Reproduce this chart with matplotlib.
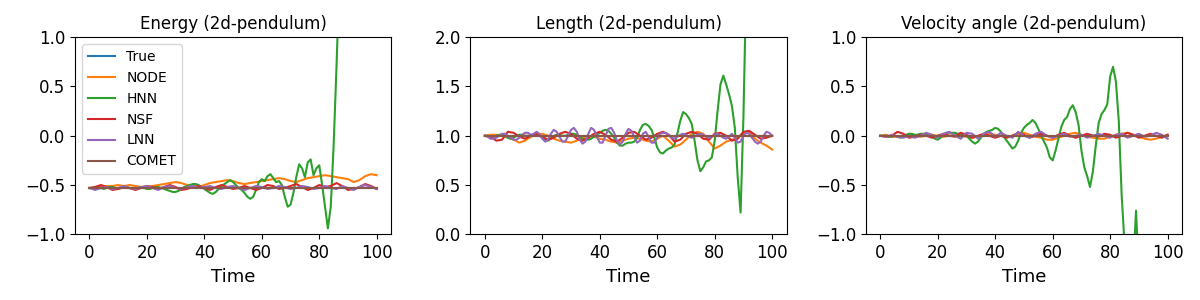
import numpy as np
import matplotlib
matplotlib.use("Agg")
import matplotlib.pyplot as plt

# time axes
t1 = np.arange(0, 101, 1)
t2 = np.arange(0, 101, 2)

labels = ["True", "NODE", "HNN", "NSF", "LNN", "COMET"]
titles = ["Energy (2d-pendulum)", "Length (2d-pendulum)", "Velocity angle (2d-pendulum)"]
ylims = [(-1.0, 1.0), (0.0, 2.0), (-1.0, 1.0)]
yticks = [[-1.0, -0.5, 0.0, 0.5, 1.0], [0.0, 0.5, 1.0, 1.5, 2.0], [-1.0, -0.5, 0.0, 0.5, 1.0]]

# ---------------- Energy ----------------
energy_true = -0.53
energy_comet = -0.53
energy_node = [-0.53, -0.53, -0.52, -0.51, -0.51, -0.50, -0.51, -0.50, -0.51, -0.52,
               -0.52, -0.51, -0.50, -0.49, -0.48, -0.47, -0.48, -0.50, -0.51, -0.52,
               -0.50, -0.48, -0.47, -0.46, -0.45, -0.46, -0.48, -0.49, -0.48, -0.47,
               -0.46, -0.45, -0.44, -0.43, -0.44, -0.46, -0.47, -0.45, -0.43, -0.42,
               -0.41, -0.40, -0.41, -0.42, -0.43, -0.44, -0.47, -0.45, -0.41, -0.39, -0.40]
energy_nsf = [-0.53, -0.52, -0.50, -0.52, -0.55, -0.54, -0.52, -0.53, -0.55, -0.53,
              -0.51, -0.52, -0.54, -0.52, -0.50, -0.52, -0.55, -0.54, -0.52, -0.51,
              -0.53, -0.55, -0.52, -0.50, -0.52, -0.54, -0.53, -0.51, -0.53, -0.55,
              -0.53, -0.50, -0.51, -0.54, -0.53, -0.51, -0.49, -0.52, -0.55, -0.53,
              -0.50, -0.52, -0.51, -0.48, -0.51, -0.55, -0.54, -0.52, -0.49, -0.51, -0.54]
energy_lnn = [-0.53, -0.55, -0.53, -0.52, -0.54, -0.53, -0.51, -0.53, -0.54, -0.52,
              -0.51, -0.53, -0.55, -0.52, -0.51, -0.53, -0.54, -0.52, -0.51, -0.53,
              -0.52, -0.51, -0.53, -0.54, -0.52, -0.51, -0.53, -0.55, -0.53, -0.51,
              -0.52, -0.54, -0.53, -0.51, -0.52, -0.54, -0.53, -0.51, -0.52, -0.54,
              -0.53, -0.51, -0.53, -0.54, -0.51, -0.53, -0.55, -0.52, -0.50, -0.52, -0.54]
energy_hnn = [-0.53, -0.53, -0.52, -0.52, -0.53, -0.54, -0.53, -0.52, -0.52, -0.53,
              -0.54, -0.53, -0.52, -0.52, -0.53, -0.54, -0.54, -0.53, -0.52, -0.53,
              -0.54, -0.54, -0.53, -0.52, -0.52, -0.53, -0.54, -0.55, -0.56, -0.57,
              -0.57, -0.56, -0.54, -0.52, -0.51, -0.50, -0.49, -0.49, -0.50, -0.52,
              -0.54, -0.56, -0.58, -0.59, -0.57, -0.54, -0.51, -0.49, -0.47, -0.45,
              -0.47, -0.50, -0.53, -0.55, -0.58, -0.62, -0.64, -0.62, -0.55, -0.47,
              -0.44, -0.46, -0.41, -0.39, -0.43, -0.47, -0.46, -0.50, -0.62, -0.72,
              -0.70, -0.58, -0.42, -0.29, -0.33, -0.42, -0.27, -0.24, -0.40, -0.33,
              -0.30, -0.50, -0.72, -0.94, -0.72, -0.10, 0.70, 1.60, 3.0, 5.0,
              7.0, 9.0, 11.0, 13.0, 15.0, 17.0, 19.0, 21.0, 23.0, 25.0, 27.0]

# ---------------- Length ----------------
length_true = 1.0
length_comet = 1.0
length_node = [1.00, 1.01, 1.01, 1.00, 0.98, 0.96, 0.93, 0.95, 0.99, 1.01,
               1.02, 1.00, 0.97, 0.95, 0.94, 0.93, 0.95, 0.98, 1.00, 0.99,
               0.97, 0.96, 0.94, 0.93, 0.95, 0.97, 0.98, 0.97, 0.95, 0.94,
               0.97, 1.00, 0.95, 0.89, 0.91, 0.96, 1.02, 1.04, 1.02, 0.94,
               0.87, 0.90, 0.94, 0.96, 0.98, 1.03, 1.04, 0.97, 0.93, 0.90, 0.86]
length_nsf = [1.00, 0.99, 0.95, 0.96, 1.04, 1.03, 0.99, 0.97, 1.00, 1.02,
              0.99, 0.96, 0.98, 1.02, 1.04, 1.02, 0.97, 0.95, 0.98, 1.02,
              1.04, 1.01, 0.96, 0.94, 0.98, 1.03, 1.04, 1.00, 0.96, 0.98,
              1.02, 1.04, 1.01, 0.94, 0.96, 1.02, 1.04, 1.02, 0.97, 0.96,
              1.02, 1.03, 1.00, 0.95, 0.97, 1.04, 1.05, 1.01, 0.97, 0.98, 1.00]
length_lnn = [1.00, 0.99, 0.97, 0.97, 0.98, 1.00, 1.02, 1.02, 1.00, 0.98,
              0.96, 0.96, 0.98, 1.01, 1.03, 1.03, 1.01, 1.02, 1.04, 1.02,
              0.97, 0.94, 0.96, 1.02, 1.06, 1.04, 0.99, 0.94, 0.94, 1.00,
              1.06, 1.08, 1.04, 0.96, 0.92, 0.94, 1.02, 1.08, 1.06, 0.99,
              0.93, 0.93, 1.00, 1.07, 1.08, 1.03, 0.95, 0.91, 0.94, 1.02,
              1.07, 1.05, 0.99, 0.93, 0.95, 1.02, 1.04, 0.99, 0.93, 0.93,
              0.98, 1.02, 1.03, 1.03, 1.01, 0.98, 0.97, 0.99, 1.01, 1.02,
              1.01, 0.99, 0.98, 0.99, 1.01, 1.02, 1.01, 0.99, 0.98, 0.99,
              1.01, 1.02, 1.00, 0.98, 0.97, 0.99, 1.02, 0.98, 0.93, 0.94,
              1.00, 1.03, 1.02, 0.98, 0.94, 0.92, 0.94, 1.00, 1.04, 1.03, 1.00]
length_hnn = [1.00, 1.00, 0.99, 0.99, 1.00, 1.01, 1.01, 1.00, 0.98, 0.97,
              0.98, 1.00, 1.01, 1.01, 1.00, 1.00, 1.00, 1.00, 1.01, 1.00,
              0.98, 0.96, 0.95, 0.97, 1.00, 1.01, 1.01, 1.00, 1.00, 1.01,
              1.02, 1.02, 1.01, 0.99, 0.97, 0.96, 0.96, 0.97, 0.99, 1.01,
              1.03, 1.05, 1.06, 1.05, 1.02, 0.98, 0.93, 0.90, 0.90, 0.92,
              0.93, 0.93, 0.94, 0.98, 1.06, 1.11, 1.12, 1.10, 1.06, 0.98,
              0.88, 0.83, 0.82, 0.85, 0.87, 0.88, 0.91, 1.02, 1.15, 1.24,
              1.22, 1.18, 1.12, 0.95, 0.75, 0.64, 0.68, 0.74, 0.75, 0.78,
              0.95, 1.25, 1.52, 1.61, 1.52, 1.42, 1.30, 1.08, 0.58, 0.22,
              1.20, 2.60, 3.5, 4.5, 5.5, 6.5, 7.5, 8.5, 9.5, 10.5, 11.5]

# ---------------- Velocity angle ----------------
angle_true = 0.0
angle_comet = 0.0
angle_node = [0.00, 0.01, -0.01, -0.01, 0.00, 0.01, 0.00, -0.01, 0.00, 0.01,
              0.00, -0.01, 0.00, 0.01, 0.00, -0.01, -0.02, -0.01, 0.01, 0.02,
              0.01, 0.00, -0.01, 0.00, 0.02, 0.03, 0.01, -0.01, -0.02, -0.04,
              -0.04, -0.02, 0.00, 0.02, 0.03, 0.01, -0.01, -0.02, -0.03, -0.03,
              -0.01, 0.01, 0.02, 0.03, 0.01, -0.01, -0.03, -0.04, -0.03, -0.01, 0.01]
angle_nsf = [0.00, -0.01, 0.00, 0.04, 0.02, -0.02, -0.01, 0.01, 0.00, -0.02,
             0.00, 0.02, 0.00, -0.01, 0.03, 0.01, -0.02, 0.00, 0.02, 0.00,
             -0.02, 0.00, -0.02, 0.00, 0.03, 0.01, -0.02, 0.00, 0.02, 0.00,
             -0.02, 0.01, 0.03, 0.00, -0.02, 0.00, 0.02, 0.00, -0.01, 0.02,
             0.01, -0.02, 0.00, 0.03, 0.01, -0.02, 0.00, 0.02, 0.00, -0.02, 0.01]
angle_lnn = [0.00, -0.01, 0.01, -0.01, -0.02, 0.00, -0.02, 0.00, 0.03, 0.01,
             -0.02, 0.02, 0.04, 0.00, -0.03, 0.03, 0.02, -0.03, 0.02, 0.04,
             -0.01, 0.03, 0.00, -0.02, 0.04, 0.00, -0.02, 0.02, 0.04, 0.00,
             -0.02, 0.00, 0.02, -0.01, 0.00, 0.01, -0.02, 0.00, 0.02, 0.00,
             -0.02, 0.01, 0.02, -0.02, 0.00, 0.02, -0.01, 0.00, 0.03, 0.01, -0.03]
angle_hnn = [0.00, 0.00, 0.00, -0.01, -0.01, 0.00, -0.01, -0.02, -0.01, 0.01,
             0.02, 0.02, 0.01, 0.01, 0.02, 0.02, 0.01, 0.00, -0.01, -0.03,
             -0.04, -0.02, 0.01, 0.03, 0.03, 0.03, 0.03, 0.02, 0.02, 0.01,
             0.00, -0.03, -0.06, -0.08, -0.06, -0.02, 0.02, 0.04, 0.05, 0.06,
             0.08, 0.07, 0.04, -0.01, -0.05, -0.09, -0.13, -0.11, -0.05, 0.03,
             0.08, 0.11, 0.13, 0.16, 0.13, 0.07, 0.00, -0.06, -0.12, -0.22,
             -0.25, -0.15, -0.03, 0.09, 0.16, 0.19, 0.27, 0.31, 0.24, 0.11,
             -0.15, -0.32, -0.41, -0.52, -0.36, -0.10, 0.13, 0.22, 0.26, 0.32,
             0.60, 0.70, 0.55, 0.15, -0.60, -1.10, -1.50, -1.60, -1.35, -0.76,
             -1.40, -2.0, -2.5, -3.0, -3.5, -4.0, -4.5, -5.0, -5.5, -6.0, -6.5]

panels = [
    (energy_true, energy_node, energy_hnn, energy_nsf, energy_lnn, energy_comet),
    (length_true, length_node, length_hnn, length_nsf, length_lnn, length_comet),
    (angle_true, angle_node, angle_hnn, angle_nsf, angle_lnn, angle_comet),
]

colors = plt.rcParams['axes.prop_cycle'].by_key()['color']


def tgrid(series):
    return t1 if len(series) == len(t1) else t2


fig, axes = plt.subplots(1, 3, figsize=(12, 3), dpi=100)
fig.subplots_adjust(left=0.0625, right=0.985, top=0.876, bottom=0.219, wspace=0.251)

for ax, data, title, yl, yt in zip(axes, panels, titles, ylims, yticks):
    true_v, node, hnn, nsf, lnn, comet = data
    ax.plot(t1, np.full(len(t1), true_v), color=colors[0], label=labels[0])
    ax.plot(tgrid(node), node, color=colors[1], label=labels[1])
    ax.plot(tgrid(hnn), hnn, color=colors[2], label=labels[2])
    ax.plot(tgrid(nsf), nsf, color=colors[3], label=labels[3])
    ax.plot(tgrid(lnn), lnn, color=colors[4], label=labels[4])
    ax.plot(t1, np.full(len(t1), comet), color=colors[5], label=labels[5])
    ax.set_ylim(*yl)
    ax.set_yticks(yt)
    ax.set_xlim(-5, 105)
    ax.set_xticks([0, 20, 40, 60, 80, 100])
    ax.set_title(title, fontsize=12)
    ax.set_xlabel("Time", fontsize=13)
    ax.tick_params(labelsize=12)

axes[0].legend(loc="upper left", fontsize=10)

fig.savefig("out.png", dpi=100)
